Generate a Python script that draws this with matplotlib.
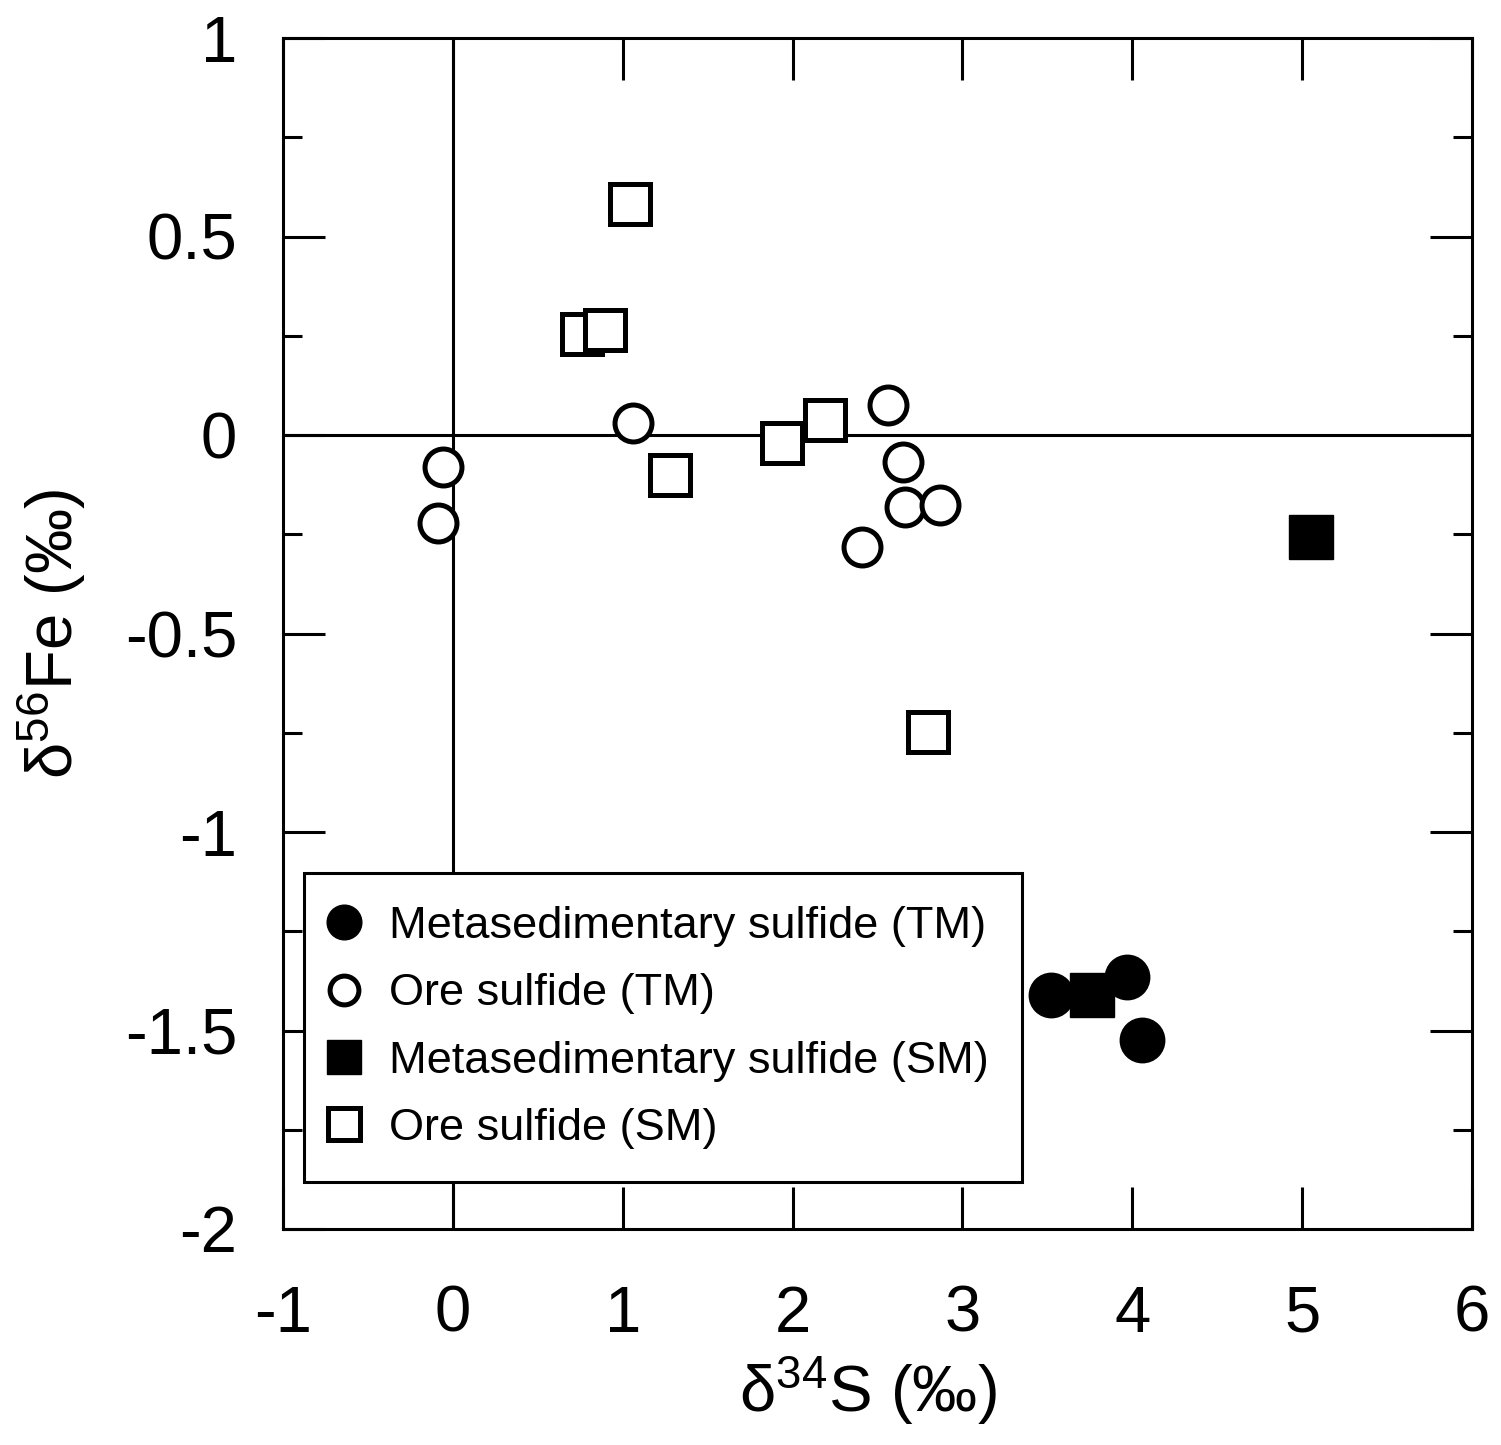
import matplotlib
matplotlib.use("Agg")
import matplotlib.pyplot as plt
from matplotlib.ticker import FixedLocator, FuncFormatter

plt.rcParams['font.family'] = ['Liberation Sans', 'DejaVu Sans']
plt.rcParams['mathtext.fontset'] = 'custom'
plt.rcParams['mathtext.rm'] = 'Liberation Sans'
plt.rcParams['mathtext.default'] = 'regular'
plt.rcParams['axes.unicode_minus'] = False

# Data (delta34S, delta56Fe)
meta_tm_x = [3.52, 3.97, 4.06]
meta_tm_y = [-1.41, -1.365, -1.524]

ore_tm_x = [-0.06, -0.09, 1.06, 2.56, 2.65, 2.66, 2.87, 2.41]
ore_tm_y = [-0.081, -0.222, 0.030, 0.076, -0.068, -0.181, -0.176, -0.282]

meta_sm_x = [5.05, 3.76]
meta_sm_y = [-0.257, -1.411]

ore_sm_x = [1.04, 0.76, 0.895, 1.28, 1.94, 2.19, 2.80]
ore_sm_y = [0.582, 0.254, 0.264, -0.101, -0.020, 0.038, -0.748]

labels = ["Metasedimentary sulfide (TM)", "Ore sulfide (TM)",
          "Metasedimentary sulfide (SM)", "Ore sulfide (SM)"]

xticks = [-1, 0, 1, 2, 3, 4, 5, 6]
yticks = [-2, -1.5, -1, -0.5, 0, 0.5, 1]
yminor = [-1.75, -1.25, -0.75, -0.25, 0.25, 0.75]

fig = plt.figure(figsize=(15.01, 14.45), dpi=100)
ax = fig.add_axes([283/1501, (1445-1229)/1445, (1472-283)/1501, (1229-38)/1445])

ax.axvline(0, color='black', lw=2.2, zorder=1)
ax.axhline(0, color='black', lw=2.2, zorder=1)

mew = 3.6
ax.plot(ore_tm_x, ore_tm_y, 'o', ls='none', ms=26.6, mfc='white', mec='black', mew=mew, zorder=3, label=labels[1])
ax.plot(ore_sm_x, ore_sm_y, 's', ls='none', ms=28.8, mfc='white', mec='black', mew=mew, zorder=3, label=labels[3])
ax.plot(meta_tm_x, meta_tm_y, 'o', ls='none', ms=32, mfc='black', mec='black', mew=1, zorder=4, label=labels[0])
ax.plot(meta_sm_x, meta_sm_y, 's', ls='none', ms=32, mfc='black', mec='black', mew=1, zorder=4, label=labels[2])

ax.set_xlim(-1, 6)
ax.set_ylim(-2, 1)
ax.xaxis.set_major_locator(FixedLocator(xticks))
ax.yaxis.set_major_locator(FixedLocator(yticks))
ax.yaxis.set_minor_locator(FixedLocator(yminor))
fmt = FuncFormatter(lambda v, p: ('%g' % v))
ax.xaxis.set_major_formatter(fmt)
ax.yaxis.set_major_formatter(fmt)

for s in ax.spines.values():
    s.set_linewidth(2.2)
ax.tick_params(which='major', direction='in', length=30, width=2.2,
               top=True, right=True, labelsize=47)
ax.tick_params(axis='x', which='major', pad=40)
ax.tick_params(axis='y', which='major', pad=33)
ax.tick_params(which='minor', direction='in', length=14, width=2.2,
               left=True, right=True)

ax.set_xlabel('δ$^{34}$S (‰)', fontsize=47)
ax.set_ylabel('δ$^{56}$Fe (‰)', fontsize=47)
ax.xaxis.set_label_coords(0.492, -0.105)
ax.yaxis.set_label_coords(-0.164, 0.5)

h, l = ax.get_legend_handles_labels()
order = [l.index(x) for x in labels]
leg = ax.legend([h[i] for i in order], [l[i] for i in order],
                loc='upper left', bbox_to_anchor=((304-283)/1189, (1229-873)/1191),
                borderaxespad=0, fontsize=32.5, frameon=True, fancybox=False,
                edgecolor='black', framealpha=1, markerscale=0.78,
                handlelength=0.3, handletextpad=0.85, labelspacing=0.585,
                borderpad=0.73)
leg.get_frame().set_linewidth(2.2)

fig.savefig('out.png', dpi=100)
